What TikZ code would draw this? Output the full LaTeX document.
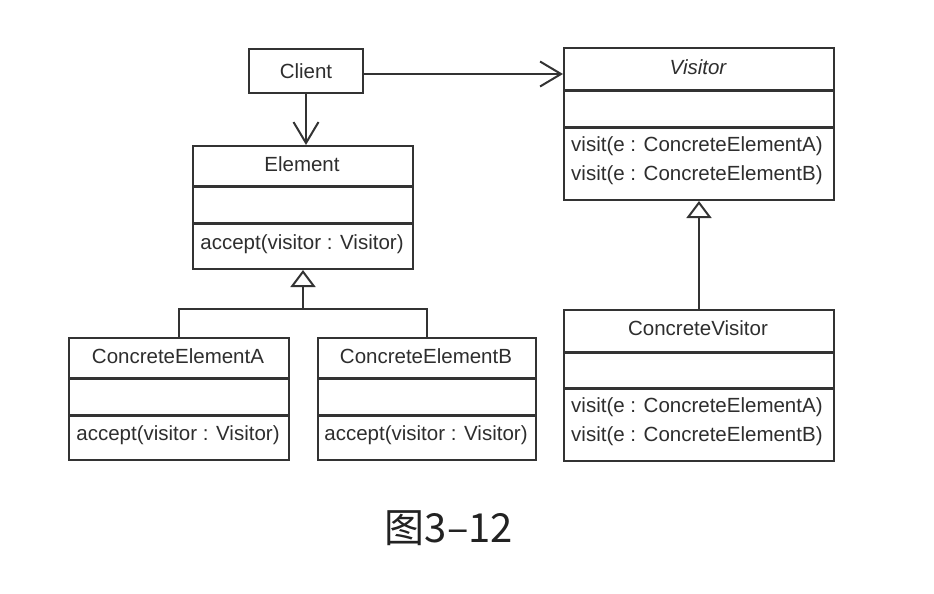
\documentclass[tikz,border=0pt]{standalone}
\usepackage{fontspec}
\setmainfont{Liberation Sans}
\newfontfamily\cjk{Noto Sans CJK SC}
\usetikzlibrary{arrows.meta}
\definecolor{lc}{HTML}{333333}
\definecolor{tc}{HTML}{2E2E2E}
\definecolor{capc}{HTML}{222222}
\tikzset{
  frame/.style={draw=lc, line width=2pt},
  sepline/.style={draw=lc, line width=3pt},
  boxnode/.style={frame, anchor=north west, inner sep=0pt},
  lbl/.style={font=\fontsize{20.5}{24}\selectfont, text=tc, inner sep=0pt},
  openarrow/.style={-{Straight Barb[length=21pt,width=25pt,line width=2pt]}},
  inh/.style={-{Triangle[open,length=17pt,width=25pt,line width=2pt]}},
}
\begin{document}
\begin{tikzpicture}[x=1pt,y=-1pt]
\useasboundingbox[fill=white] (0,0) rectangle (934,594);

% Client
\node[boxnode, minimum width=114pt, minimum height=44pt] (client) at (248,48) {};
\node[lbl] (clientT) at (client.center) {Client};

% Element
\node[boxnode, minimum width=220pt, minimum height=123pt] (element) at (192,145) {};
\draw[sepline] (192,186) -- (412,186);
\draw[sepline] (192,223) -- (412,223);
\node[lbl] (elementT) at (302,164) {Element};
\node[lbl] (elementM) at (302,244) {accept(visitor : Visitor)};

% Visitor
\node[boxnode, minimum width=270pt, minimum height=152pt] (visitor) at (563,47) {};
\draw[sepline] (563,90) -- (833,90);
\draw[sepline] (563,127) -- (833,127);
\node[lbl, font=\fontsize{20.5}{24}\selectfont\itshape] (visitorT) at (698,67) {Visitor};
\node[lbl, anchor=west] (visitorM1) at (571,146) {visit(e : ConcreteElementA)};
\node[lbl, anchor=west] (visitorM2) at (571,175) {visit(e : ConcreteElementB)};

% ConcreteElementA
\node[boxnode, minimum width=220pt, minimum height=122pt] (cea) at (68,337) {};
\draw[sepline] (68,378) -- (288,378);
\draw[sepline] (68,415) -- (288,415);
\node[lbl] (ceaT) at (178,356) {ConcreteElementA};
\node[lbl] (ceaM) at (178,435) {accept(visitor : Visitor)};

% ConcreteElementB
\node[boxnode, minimum width=218pt, minimum height=122pt] (ceb) at (317,337) {};
\draw[sepline] (317,378) -- (535,378);
\draw[sepline] (317,415) -- (535,415);
\node[lbl] (cebT) at (426,356) {ConcreteElementB};
\node[lbl] (cebM) at (426,435) {accept(visitor : Visitor)};

% ConcreteVisitor
\node[boxnode, minimum width=270pt, minimum height=151pt] (cv) at (563,309) {};
\draw[sepline] (563,352) -- (833,352);
\draw[sepline] (563,388) -- (833,388);
\node[lbl] (cvT) at (698,328) {ConcreteVisitor};
\node[lbl, anchor=west] (cvM1) at (571,407) {visit(e : ConcreteElementA)};
\node[lbl, anchor=west] (cvM2) at (571,436) {visit(e : ConcreteElementB)};

% connectors
\draw[frame, openarrow] (client.south) -- (client.south |- element.north);
\draw[frame, openarrow] (client.east |- 0,74) -- (visitor.west |- 0,74);
\coordinate (j1) at (element.south |- 0,309);
\draw[frame] (cea.north) |- (j1) -| (ceb.north);
\draw[frame, inh] (j1) -- (element.south);
\draw[frame, inh] (cv.north) -- (visitor.south);

% caption
\node[font=\cjk\fontsize{40}{48}\selectfont, text=capc, inner sep=0pt] (cap) at (449,528) {图3–12};
\end{tikzpicture}
\end{document}
